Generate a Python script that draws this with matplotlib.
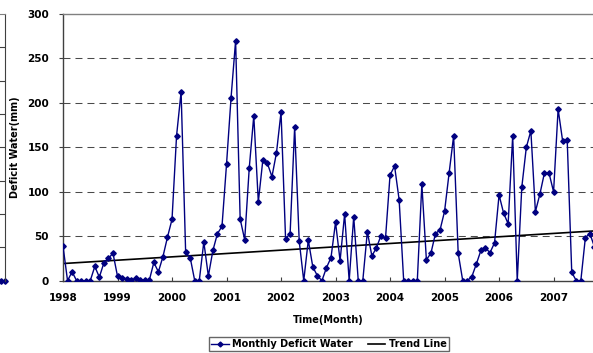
import numpy as np
import matplotlib
matplotlib.use("Agg")
import matplotlib.pyplot as plt

# monthly deficit water (mm), Jan 1998 .. Oct 2007
deficit_1998 = [39, 0, 10, 0, 0, 0, 0, 16, 4, 20, 25, 31]
deficit_1999 = [5, 3.5, 2, 1, 2.5, 1, 1, 0.5, 20.5, 10, 27, 49]
deficit_2000 = [69, 163, 212.5, 32, 26, 0, 0, 43.6, 5.3, 34, 53, 61]
deficit_2001 = [131, 206, 270, 69.5, 46, 126.6, 185.5, 88.6, 136, 132, 117, 144]
deficit_2002 = [189.6, 47, 53, 173, 44.7, 0, 45.5, 15.4, 5.6, 0, 14.6, 26]
deficit_2003 = [65.7, 22.5, 75, 0, 72, 0, 0, 55, 27.8, 37, 50.7, 47.7]
deficit_2004 = [119, 128.8, 91, 0, 0, 0, 0, 108.5, 23.5, 31, 53, 57]
deficit_2005 = [78, 121, 163, 31, 0, 0, 4.5, 18.8, 34, 37, 31.5, 42.5]
deficit_2006 = [96.5, 76, 64, 163, 0, 105, 150, 168.6, 77.7, 97.6, 121.6, 121]
deficit_2007 = [100, 193, 157, 158.4, 9.4, 0, 0, 48.5, 53, 38]

years = [1998, 1999, 2000, 2001, 2002, 2003, 2004, 2005, 2006, 2007]
trend_ends = [19.3, 56.0]   # trend line value at first and last month

# tail of the neighbouring chart on the left
prev_tail = [0, 0]

deficit = (deficit_1998 + deficit_1999 + deficit_2000 + deficit_2001 + deficit_2002
           + deficit_2003 + deficit_2004 + deficit_2005 + deficit_2006 + deficit_2007)
months = np.arange(len(deficit))

W, H = 593, 353
fig = plt.figure(figsize=(W / 100, H / 100), dpi=100)
plt.rcParams['font.family'] = ['DejaVu Sans']

x0, x1 = 63, 594
y0, y1 = 14, 280.7
ax = fig.add_axes([x0 / W, 1 - y1 / H, (x1 - x0) / W, (y1 - y0) / H])

navy = '#000080'
ax.plot(months, deficit, color=navy, lw=1.0, marker='D', ms=2.8,
        mec=navy, mfc=navy, label='Monthly Deficit Water', zorder=3)
ax.plot([months[0], months[-1]], trend_ends, color='black', lw=1.2,
        label='Trend Line', zorder=2)

ax.set_xlim(0, 116.9)
ax.set_ylim(0, 300)
ax.set_yticks(np.arange(0, 301, 50))
ax.set_xticks([12 * i for i in range(len(years))])
ax.set_xticklabels([str(y) for y in years])

for v in range(50, 300, 50):
    ax.axhline(v, color='#4a4a4a', lw=0.75, ls=(0, (6.7, 4.8)), zorder=1)

for side in ['left', 'bottom']:
    ax.spines[side].set_color('#404040')
    ax.spines[side].set_linewidth(1.0)
ax.spines['top'].set_color('#808080')
ax.spines['top'].set_linewidth(1.0)
ax.spines['right'].set_visible(False)

ax.tick_params(axis='y', direction='out', length=3, width=0.8, pad=7,
               labelsize=7.5, color='#404040')
ax.tick_params(axis='x', direction='in', length=3, width=0.8, pad=9,
               labelsize=7.5, color='#404040')
for lab in ax.get_xticklabels() + ax.get_yticklabels():
    lab.set_fontweight('bold')

fig.text(15 / W, 1 - 147.5 / H, 'Deficit Water(mm)', rotation=90,
         ha='center', va='center', fontsize=7, fontweight='bold')
fig.text(328.5 / W, 1 - 320 / H, 'Time(Month)', ha='center', va='center',
         fontsize=7, fontweight='bold')

leg = fig.legend(loc='upper center', bbox_to_anchor=(329 / W, 1 - 336.5 / H),
                 ncol=2, prop={'weight': 'bold', 'size': 7},
                 frameon=True, fancybox=False, handlelength=1.8,
                 handletextpad=0.35, columnspacing=1.5, borderpad=0.25,
                 borderaxespad=0)
leg.get_frame().set_edgecolor('#404040')
leg.get_frame().set_linewidth(1.0)
for h in leg.legend_handles:
    h.set_markersize(2.5)

# sliver of the previous chart at the left edge
ax0 = fig.add_axes([0, 1 - y1 / H, 5 / W, (y1 - y0) / H])
ax0.plot([0.1, 1.0], prev_tail, color=navy, lw=1.0, marker='D', ms=2.8,
         clip_on=False)
ax0.set_xlim(0, 1)
ax0.set_ylim(0, 8)
ax0.set_xticks([])
ax0.set_yticks(range(1, 8))
ax0.yaxis.tick_right()
ax0.tick_params(axis='y', direction='in', length=5, width=0.8,
                labelright=False, color='#404040')
for side in ['left', 'bottom']:
    ax0.spines[side].set_visible(False)
ax0.spines['right'].set_color('#404040')
ax0.spines['top'].set_color('#808080')
ax0.patch.set_visible(False)

fig.savefig('out.png', dpi=100)
